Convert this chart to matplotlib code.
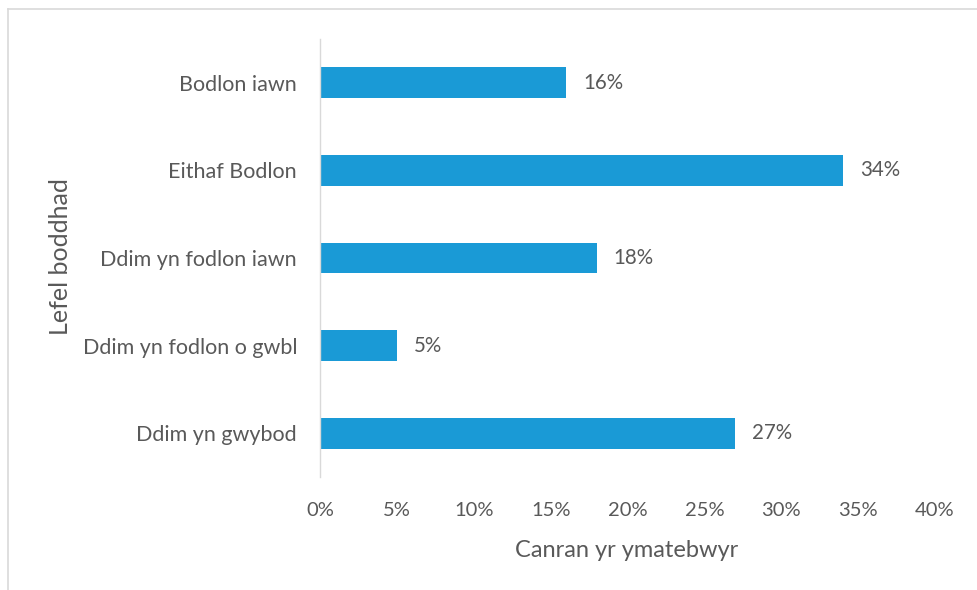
import matplotlib
matplotlib.use("Agg")
import matplotlib.pyplot as plt
from matplotlib.lines import Line2D
from matplotlib.ticker import FuncFormatter

categories = ["Bodlon iawn", "Eithaf Bodlon", "Ddim yn fodlon iawn",
              "Ddim yn fodlon o gwbl", "Ddim yn gwybod"]
values = [16, 34, 18, 5, 27]
xticks = [0, 5, 10, 15, 20, 25, 30, 35, 40]

bar_color = "#1A9AD6"
text_color = "#595959"
plt.rcParams["font.family"] = ["Lato", "DejaVu Sans"]

W, H = 977, 590
fig = plt.figure(figsize=(W / 100, H / 100), dpi=100)
fig.patch.set_facecolor("white")

# chart frame (top and left edges)
frame = dict(transform=fig.transFigure, color="#D9D9D9", linewidth=1.2)
fig.add_artist(Line2D([8 / W, 1], [1 - 9 / H, 1 - 9 / H], **frame))
fig.add_artist(Line2D([8 / W, 8 / W], [0, 1 - 9 / H], **frame))

left, right = 320 / W, 935 / W
top, bottom = 1 - 39 / H, 1 - 477 / H
ax = fig.add_axes([left, bottom, right - left, top - bottom])

ypos = list(range(len(categories)))
ax.barh(ypos, values, height=0.35, color=bar_color, zorder=2)
ax.set_ylim(len(categories) - 0.5, -0.5)
ax.set_xlim(0, 40)
ax.set_yticks(ypos)
ax.set_yticklabels(categories, fontsize=15.5, color=text_color)
ax.set_xticks(xticks)
ax.xaxis.set_major_formatter(FuncFormatter(lambda v, p: f"{v:.0f}%"))
ax.tick_params(axis="x", labelsize=14.5, colors=text_color, length=0, pad=18)
ax.tick_params(axis="y", length=0, pad=16.5)

for s in ["top", "right", "bottom"]:
    ax.spines[s].set_visible(False)
ax.spines["left"].set_color("#D9D9D9")
ax.spines["left"].set_linewidth(1)

for y, v in zip(ypos, values):
    ax.text(v + 1.1, y, f"{v}%", va="center", ha="left",
            fontsize=14.8, color=text_color)

fig.text(627 / W, 1 - 557 / H, "Canran yr ymatebwyr", ha="center",
         va="baseline", fontsize=17, color=text_color)
fig.text(60 / W, 1 - 257 / H, "Lefel boddhad", ha="center", va="center",
         rotation=90, fontsize=18, color=text_color)

fig.savefig("out.png", dpi=100, facecolor="white")
